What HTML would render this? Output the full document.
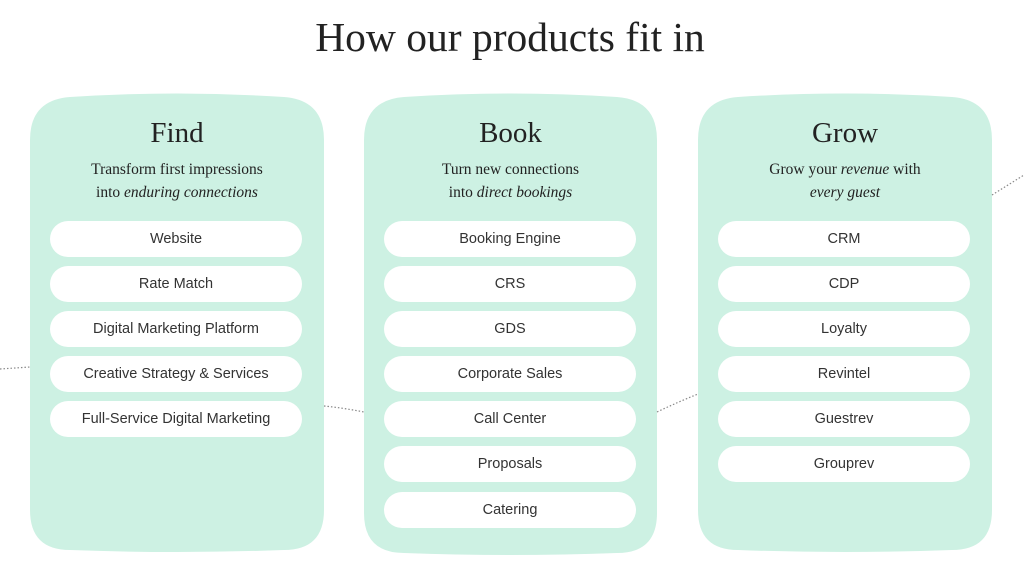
<!DOCTYPE html>
<html><head><meta charset="utf-8"><style>
body{margin:0;width:1024px;height:576px;background:#fff;overflow:hidden;position:relative;font-family:"Liberation Serif",serif;color:#222}
svg{position:absolute;left:0;top:0}
.t{position:absolute;width:1024px;text-align:center;top:13px;font-size:41.5px;left:-2px}
.card{position:absolute;text-align:center}
.card h2{margin:0;font-weight:normal;font-size:29px;position:absolute;width:100%;top:117px}
.card .s{position:absolute;width:100%;top:158px;font-size:15.5px;line-height:23px}
.pill{position:absolute;background:#fff;border-radius:18px;height:36px;line-height:37px;font-family:"Liberation Sans",sans-serif;font-size:14.5px;color:#333;width:252px;text-align:center}
</style></head><body>
<svg width="1024" height="576">
<g fill="#cdf1e3">
<path d="M30,140 Q30,100 70,97 Q177,90 284,97 Q324,100 324,140 L324,510 Q324,550 284,550 Q177,554 70,550 Q30,550 30,510 Z"/>
<path d="M364,140 Q364,100 404,97 Q510,90 617,97 Q657,100 657,140 L657,513 Q657,553 617,553 Q510,557 404,553 Q364,553 364,513 Z"/>
<path d="M698,140 Q698,100 738,97 Q845,90 952,97 Q992,100 992,140 L992,510 Q992,550 952,550 Q845,554 738,550 Q698,550 698,510 Z"/>
</g>
<g stroke="#888" stroke-width="1.2" stroke-dasharray="1.5,2" fill="none">
<path d="M0,369 L30,367"/><path d="M324,406 Q344,408 364,412"/><path d="M657,412 Q678,402 698,394"/><path d="M992,195 Q1008,185 1024,175"/>
</g>
</svg>
<div class="t">How our products fit in</div>
<div class="card" style="left:30px;width:294px"><h2>Find</h2><div class="s">Transform first impressions<br>into <i>enduring connections</i></div></div>
<div class="card" style="left:364px;width:293px"><h2>Book</h2><div class="s">Turn new connections<br>into <i>direct bookings</i></div></div>
<div class="card" style="left:698px;width:294px"><h2>Grow</h2><div class="s">Grow your <i>revenue</i> with<br><i>every guest</i></div></div>
<div class="pill" style="left:50px;top:221px">Website</div>
<div class="pill" style="left:50px;top:266px">Rate Match</div>
<div class="pill" style="left:50px;top:311px">Digital Marketing Platform</div>
<div class="pill" style="left:50px;top:356px">Creative Strategy &amp; Services</div>
<div class="pill" style="left:50px;top:401px">Full-Service Digital Marketing</div>
<div class="pill" style="left:384px;top:221px">Booking Engine</div>
<div class="pill" style="left:384px;top:266px">CRS</div>
<div class="pill" style="left:384px;top:311px">GDS</div>
<div class="pill" style="left:384px;top:356px">Corporate Sales</div>
<div class="pill" style="left:384px;top:401px">Call Center</div>
<div class="pill" style="left:384px;top:446px">Proposals</div>
<div class="pill" style="left:384px;top:492px">Catering</div>
<div class="pill" style="left:718px;top:221px">CRM</div>
<div class="pill" style="left:718px;top:266px">CDP</div>
<div class="pill" style="left:718px;top:311px">Loyalty</div>
<div class="pill" style="left:718px;top:356px">Revintel</div>
<div class="pill" style="left:718px;top:401px">Guestrev</div>
<div class="pill" style="left:718px;top:446px">Grouprev</div>
</body></html>
